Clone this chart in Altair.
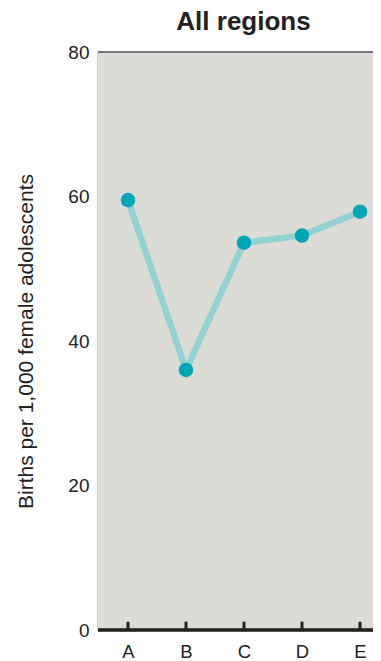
import altair as alt
import pandas as pd

regions = ["A", "B", "C", "D", "E"]
births = [59.5, 36.0, 53.6, 54.6, 57.9]
y_ticks = [0, 20, 40, 60, 80]

df = pd.DataFrame({"region": regions, "births": births})

FONT = "Liberation Sans"
LINE_COLOR = "#93d2d2"
POINT_COLOR = "#00a6b6"
BG = "#dcdcd6"
W = 275
H = 578

x_enc = alt.X(
    "region:N",
    sort=regions,
    scale=alt.Scale(type="point", range=[30, 262], padding=0),
    axis=alt.Axis(
        title=None, labelAngle=0, ticks=False, grid=False, domain=False,
        labelPadding=12, labelFontSize=18.5, labelColor="#222222", labelFont=FONT,
    ),
)
y_enc = alt.Y(
    "births:Q",
    scale=alt.Scale(domain=[0, 80], nice=False, zero=True),
    axis=alt.Axis(
        values=y_ticks, title="Births per 1,000 female adolescents",
        ticks=False, grid=True, gridColor="white", gridWidth=2,
        domainColor="#444444", domainWidth=1.5,
        labelPadding=9, labelFontSize=19, labelColor="#222222", labelFont=FONT,
        titleFontSize=21, titleFontWeight="normal", titleColor="#222222",
        titleFont=FONT, titlePadding=31,
    ),
)

bg = alt.Chart(df).mark_rect(color=BG).encode(
    x=alt.value(0), x2=alt.value(W), y=alt.value(0), y2=alt.value(H)
)
line = alt.Chart(df).mark_line(color=LINE_COLOR, strokeWidth=6.5).encode(x=x_enc, y=y_enc)
points = alt.Chart(df).mark_circle(color=POINT_COLOR, size=210, opacity=1).encode(
    x=alt.X("region:N", sort=regions), y=alt.Y("births:Q")
)
ticks = alt.Chart(df).mark_rule(color="#222222", strokeWidth=3).encode(
    x=alt.X("region:N", sort=regions), y=alt.datum(0), y2=alt.datum(1.15)
)
top = alt.Chart(df).mark_rule(color="#777777", strokeWidth=2).encode(y=alt.datum(80))
bottom = alt.Chart(df).mark_rule(color="#222222", strokeWidth=2.5).encode(y=alt.datum(0))

chart = alt.layer(bg, line, ticks, top, bottom, points).properties(
    width=W,
    height=H,
    autosize=alt.AutoSizeParams(type="none"),
    padding={"left": 90, "top": 44, "right": 0, "bottom": 30},
    title=alt.TitleParams(
        "All regions", fontSize=26, fontWeight="bold", font=FONT,
        color="#222222", anchor="middle", dx=8, offset=8,
    ),
).configure_view(strokeWidth=0).configure(font=FONT, background="white")

chart.save("out.html", embed_options={"renderer": "svg", "actions": False})
